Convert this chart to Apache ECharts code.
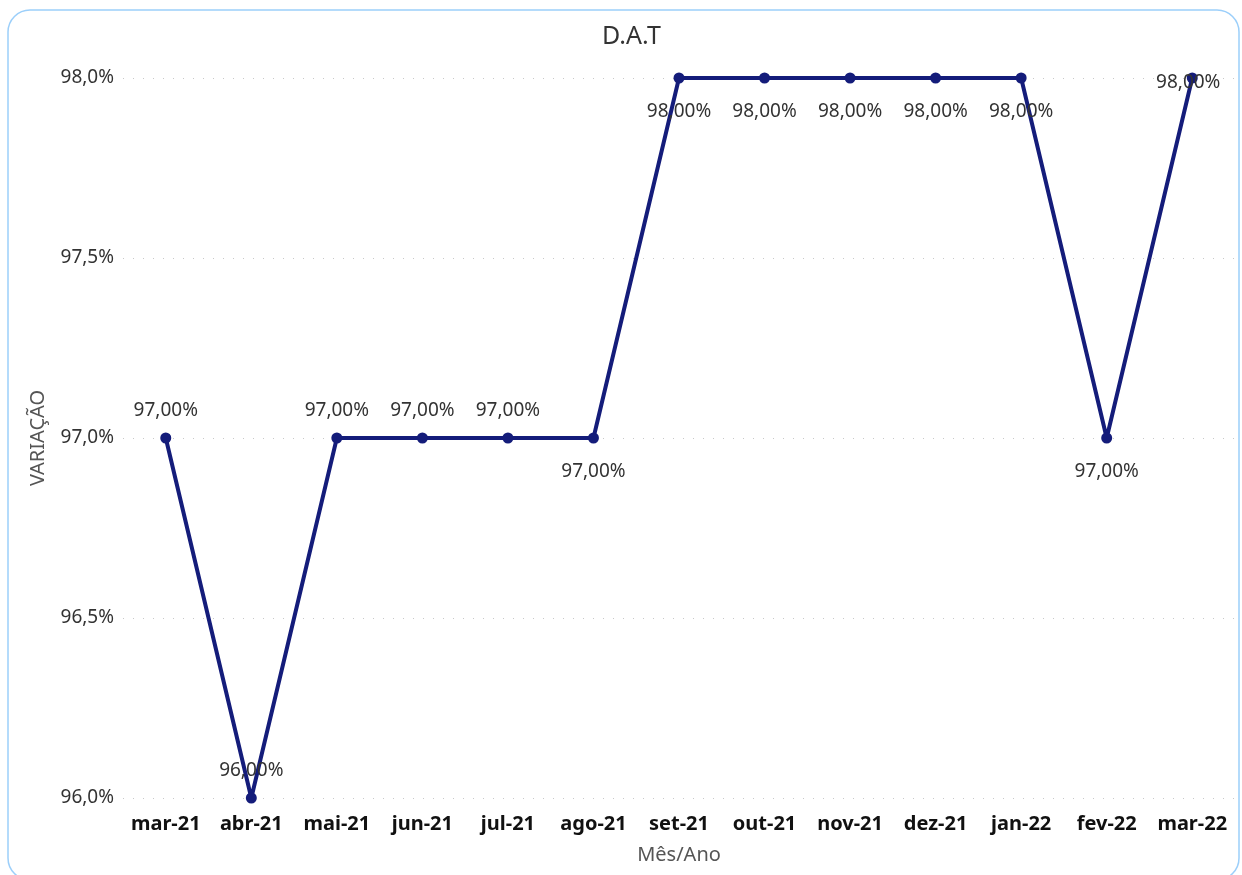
<!DOCTYPE html>
<html>
<head>
<meta charset="utf-8">
<script src="https://cdn.jsdelivr.net/npm/echarts@6/dist/echarts.min.js"></script>
<style>
html,body{margin:0;padding:0;background:#fff;}
#chart{width:1242px;height:875px;}
</style>
</head>
<body>
<div id="chart"></div>
<script>
const categories = ['mar-21','abr-21','mai-21','jun-21','jul-21','ago-21','set-21','out-21','nov-21','dez-21','jan-22','fev-22','mar-22'];
const values = [97, 96, 97, 97, 97, 97, 98, 98, 98, 98, 98, 97, 98];
const yTicks = { min: 96, max: 98, interval: 0.5 };

// label placement per point (style only)
const labelPlacement = ['top','top','top','top','top','bottom','bottom','bottom','bottom','bottom','bottom','bottom','inside'];

const fmtPct = (v, d) => v.toFixed(d).replace('.', ',') + '%';
const FONT = '"Noto Sans", "Open Sans", sans-serif';

const seriesData = values.map((v, i) => {
  const pos = labelPlacement[i];
  let lbl = { position: pos };
  if (pos === 'top') lbl.distance = 12;
  else if (pos === 'bottom') lbl.distance = 19;
  else lbl.offset = [-4, 5];
  return { value: v, label: lbl };
});

const chart = echarts.init(document.getElementById('chart'), null, { renderer: 'canvas' });
chart.setOption({
  animation: false,
  backgroundColor: '#fff',
  graphic: [{
    type: 'rect',
    shape: { x: 8, y: 10, width: 1231, height: 870, r: 22 },
    style: { fill: 'none', stroke: '#9ccffa', lineWidth: 1.5 },
    silent: true,
    z: -1
  }],
  title: {
    text: 'D.A.T',
    left: 597,
    top: 19,
    textStyle: { fontFamily: FONT, fontSize: 25, fontWeight: 'normal', color: '#333' }
  },
  grid: { left: 123, right: 7, top: 78, bottom: 77, containLabel: false },
  xAxis: {
    type: 'category',
    data: categories,
    boundaryGap: true,
    name: 'Mês/Ano',
    nameLocation: 'middle',
    nameGap: 47,
    nameTextStyle: { fontFamily: FONT, fontSize: 20, color: '#555' },
    axisLine: { show: false },
    axisTick: { show: false },
    axisLabel: { fontFamily: FONT, fontSize: 20, fontWeight: 'bold', color: '#111', margin: 16, interval: 0 }
  },
  yAxis: {
    type: 'value',
    min: yTicks.min,
    max: yTicks.max,
    interval: yTicks.interval,
    name: 'VARIAÇÃO',
    nameLocation: 'middle',
    nameGap: 75,
    nameTextStyle: { fontFamily: FONT, fontSize: 20, color: '#555' },
    axisLine: { show: false },
    axisTick: { show: false },
    axisLabel: { fontFamily: FONT, fontSize: 19, color: '#333', margin: 9, formatter: v => fmtPct(v, 1) },
    splitLine: { show: true, lineStyle: { color: '#c8c8c8', type: [1, 9], width: 1 } }
  },
  series: [{
    type: 'line',
    data: seriesData,
    symbol: 'circle',
    symbolSize: 11,
    lineStyle: { color: '#141c7a', width: 4 },
    itemStyle: { color: '#141c7a' },
    label: {
      show: true,
      fontFamily: FONT,
      fontSize: 19,
      color: '#333',
      formatter: p => fmtPct(p.value, 2)
    }
  }]
});
</script>
</body>
</html>
